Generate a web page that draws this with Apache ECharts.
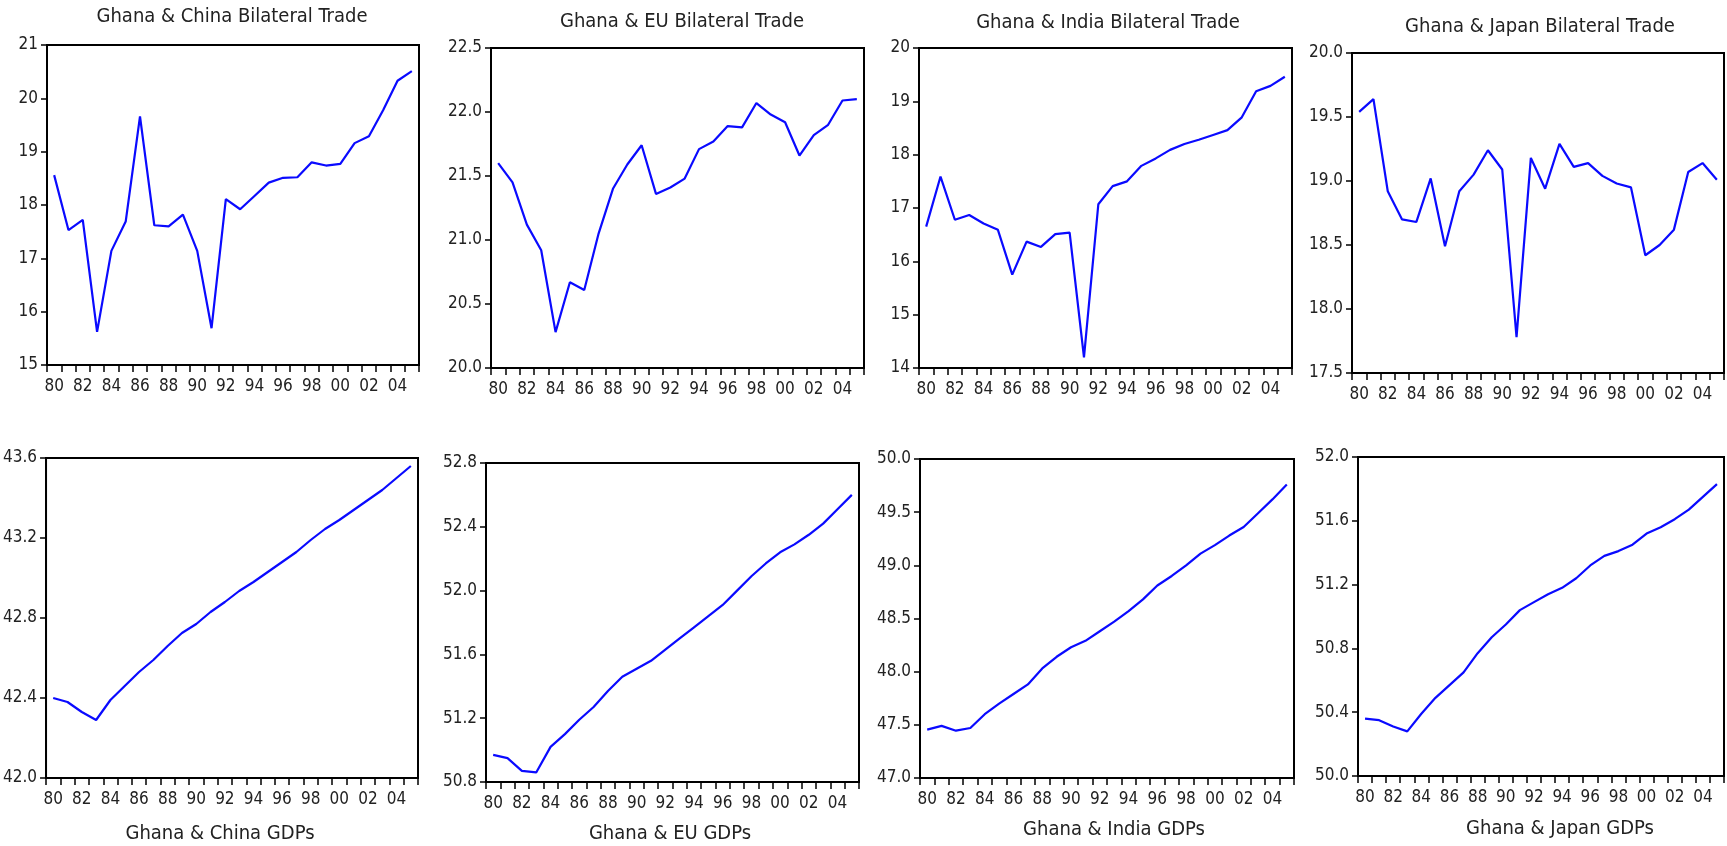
<!DOCTYPE html>
<html>
<head>
<meta charset="utf-8">
<title>Ghana bilateral trade and GDPs</title>
<script src="https://cdn.jsdelivr.net/npm/echarts@6/dist/echarts.min.js"></script>
<style>
  html, body { margin: 0; padding: 0; background: #fff; }
  #chart { width: 1727px; height: 846px; }
</style>
</head>
<body>
<div id="chart"></div>
<script>
// years 1980 - 2005, shown as two-digit labels
const years = ["80","81","82","83","84","85","86","87","88","89","90","91","92",
  "93","94","95","96","97","98","99","00","01","02","03","04","05"];

// top row: bilateral trade
const chinaTrade = [18.56,17.53,17.72,15.62,17.14,17.69,19.66,17.62,17.60,17.82,17.14,15.69,18.11,
  17.92,18.17,18.42,18.51,18.52,18.80,18.74,18.77,19.16,19.29,19.78,20.33,20.51];
const euTrade = [21.60,21.45,21.12,20.92,20.28,20.67,20.61,21.05,21.40,21.59,21.74,21.36,21.41,
  21.48,21.71,21.77,21.89,21.88,22.07,21.98,21.92,21.66,21.82,21.90,22.09,22.10];
const indiaTrade = [16.65,17.59,16.78,16.87,16.71,16.59,15.75,16.37,16.27,16.51,16.54,14.20,17.07,
  17.41,17.50,17.79,17.93,18.09,18.20,18.28,18.37,18.46,18.70,19.19,19.29,19.46];
const japanTrade = [19.54,19.64,18.92,18.70,18.68,19.02,18.49,18.92,19.05,19.24,19.09,17.78,19.18,
  18.94,19.29,19.11,19.14,19.04,18.98,18.95,18.42,18.50,18.62,19.07,19.14,19.01];

// bottom row: GDPs
const chinaGdp = [42.40,42.38,42.33,42.29,42.39,42.46,42.53,42.59,42.66,42.725,42.77,42.83,42.88,
  42.935,42.98,43.03,43.08,43.13,43.19,43.245,43.29,43.34,43.39,43.44,43.50,43.56];
const euGdp = [50.97,50.95,50.87,50.86,51.02,51.10,51.19,51.27,51.37,51.46,51.51,51.56,51.63,
  51.70,51.77,51.84,51.91,52.00,52.09,52.17,52.24,52.29,52.35,52.42,52.51,52.60];
const indiaGdp = [47.455,47.49,47.445,47.47,47.60,47.70,47.79,47.88,48.03,48.14,48.23,48.29,48.38,
  48.47,48.57,48.68,48.81,48.90,49.00,49.11,49.19,49.28,49.36,49.49,49.62,49.76];
const japanGdp = [50.36,50.35,50.31,50.28,50.39,50.49,50.57,50.65,50.77,50.87,50.95,51.04,51.09,
  51.14,51.18,51.24,51.32,51.38,51.41,51.45,51.52,51.56,51.61,51.67,51.75,51.83];

const panelTitles = ["Ghana & China Bilateral Trade","Ghana & EU Bilateral Trade",
  "Ghana & India Bilateral Trade","Ghana & Japan Bilateral Trade",
  "Ghana & China GDPs","Ghana & EU GDPs","Ghana & India GDPs","Ghana & Japan GDPs"];
const panelData = [chinaTrade, euTrade, indiaTrade, japanTrade, chinaGdp, euGdp, indiaGdp, japanGdp];
// y axis: [min, max, interval, decimals]
const yRanges = [[15,21,1,0],[20,22.5,0.5,1],[14,20,1,0],[17.5,20,0.5,1],
  [42,43.6,0.4,1],[50.8,52.8,0.4,1],[47,50,0.5,1],[50,52,0.4,1]];

// plot boxes in pixels: left, top, width, height
const boxes = [
  [47,45,372,320],[491,48,373,320],[919,48,373,320],[1352,53,372,320],
  [45,458,373,320],[486,463,373,319],[920,459,374,319],[1358,457,366,319]
];
// title anchor (center x, y)
const titlePos = [[232,17],[682,22],[1108,23],[1540,27],[220,834],[670,834],[1114,830],[1560,829]];

const FONT = '"Liberation Sans Narrow","DejaVu Sans Condensed","Liberation Sans",sans-serif';

let chart = echarts.init(document.getElementById("chart"));

let grids = [], xAxes = [], yAxes = [], series = [], graphics = [];
panelData.forEach((vals, i) => {
  let b = boxes[i];
  grids.push({
    left: b[0], top: b[1], width: b[2], height: b[3],
    show: true, borderColor: "#000", borderWidth: 2, backgroundColor: "#fff"
  });
  xAxes.push({
    type: "category", gridIndex: i, data: years, boundaryGap: true,
    axisLine: { show: true, lineStyle: { color: "#000", width: 2 } },
    axisTick: { show: true, interval: 0, length: 7, inside: false, lineStyle: { color: "#000", width: 1.5 } },
    axisLabel: { interval: 1, margin: 13, color: "#222", fontSize: 17, fontFamily: FONT },
    splitLine: { show: false }
  });
  let r = yRanges[i];
  yAxes.push({
    type: "value", gridIndex: i, min: r[0], max: r[1], interval: r[2],
    axisLine: { show: true, lineStyle: { color: "#000", width: 2 } },
    axisTick: { show: true, length: 6, lineStyle: { color: "#000", width: 1.5 } },
    axisLabel: {
      margin: 9, color: "#222", fontSize: 17, fontFamily: FONT,
      formatter: (v) => v.toFixed(r[3])
    },
    splitLine: { show: false }
  });
  series.push({
    type: "line", xAxisIndex: i, yAxisIndex: i, data: vals,
    showSymbol: false, symbol: "none", animation: false,
    lineStyle: { color: "#0a0aff", width: 2.2 }
  });
  graphics.push({
    type: "text", x: titlePos[i][0], y: titlePos[i][1],
    style: {
      text: panelTitles[i], fill: "#222", font: "20px " + FONT,
      textAlign: "center", textVerticalAlign: "middle"
    }
  });
});

chart.setOption({
  backgroundColor: "#fff",
  animation: false,
  grid: grids,
  xAxis: xAxes,
  yAxis: yAxes,
  series: series,
  graphic: graphics
});

window.addEventListener("resize", () => {
  if (chart) chart.resize();
});
</script>
</body>
</html>
